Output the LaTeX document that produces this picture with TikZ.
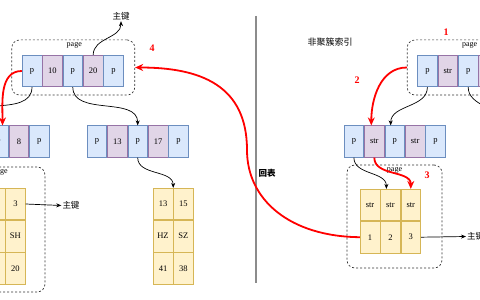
\documentclass[tikz,border=0pt]{standalone}
\usepackage{fontspec}
\setmainfont{Liberation Serif}
\newfontfamily\cjk{Noto Sans CJK SC}
\usetikzlibrary{arrows.meta,positioning,calc,fit}
\definecolor{ptrfill}{HTML}{DAE8FC}
\definecolor{ptrline}{HTML}{6C8EBF}
\definecolor{keyfill}{HTML}{E1D5E7}
\definecolor{keyline}{HTML}{9673A6}
\definecolor{rowfill}{HTML}{FFF2CC}
\definecolor{rowline}{HTML}{D6B656}
\definecolor{sepgray}{HTML}{8C8C8C}

\begin{document}
\begin{tikzpicture}[x=1pt, y=1pt,
    >={Stealth[length=5pt,width=4pt]},
    cell/.style={draw, minimum width=19.7pt, minimum height=31.5pt, inner sep=0pt, line width=0.7pt, font=\fontsize{8.5}{10}\selectfont},
    pcell/.style={cell, draw=ptrline, fill=ptrfill},
    kcell/.style={cell, draw=keyline, fill=keyfill},
    rcell/.style={cell, draw=rowline, fill=rowfill},
    pagebox/.style={draw=black!80, dash pattern=on 2pt off 2pt, rounded corners=8pt, line width=0.7pt, inner sep=0pt},
    lab/.style={font=\fontsize{8}{9}\selectfont, inner sep=1pt},
    zh/.style={font=\cjk\fontsize{8.5}{10}\selectfont, inner sep=1pt},
    num/.style={font=\bfseries\fontsize{10}{12}\selectfont, text=red, inner sep=1pt},
    link/.style={->, line width=0.7pt},
    hot/.style={-{Stealth[length=8pt,width=7pt]}, draw=red, line width=1.8pt}]
  \useasboundingbox (0,0) rectangle (480,300);
  \clip (0,0) rectangle (480,300);

  % clustered index
  \node[pcell] (r1) at (32,229) {p};
  \node[kcell, right=0pt of r1] (r2) {10};
  \node[pcell, right=0pt of r2] (r3) {p};
  \node[kcell, right=0pt of r3] (r4) {20};
  \node[pcell, right=0pt of r4] (r5) {p};
  \coordinate (bl1) at ($(r1.north west)+(-10,15)$);
  \coordinate (bl2) at ($(r5.south east)+(11,-8)$);
  \node[pagebox, fit=(bl1)(bl2)] (pgL) {};
  \node[lab, anchor=north] at ($(pgL.north)+(1,-2)$) {page};
  \node[zh] (pkT) at (121,284) {主键};
  \draw[link] (r4.north) to[out=90, in=-90] (pkT.south);

  \node[pcell] (l3) at (-1.5,158.5) {p};
  \node[kcell, right=0pt of l3] (l4) {8};
  \node[pcell, right=0pt of l4] (l5) {p};
  \coordinate (offL) at (-41,174.2);

  \node[pcell] (m1) at (96.9,158.5) {p};
  \node[kcell, right=0pt of m1] (m2) {13};
  \node[pcell, right=0pt of m2] (m3) {p};
  \node[kcell, right=0pt of m3] (m4) {17};
  \node[pcell, right=0pt of m4] (m5) {p};

  \draw[link] (r1.south) to[out=-90, in=90] (offL);
  \draw[hot] (r1.west) to[out=180, in=90] ([xshift=4pt]l3.north);
  \draw[link] (r3.south) to[out=-90, in=90] (m3.north);

  % leaves
  \node[rcell] (la1) at (-5,96) {};
  \node[rcell, right=0pt of la1] (lb1) {3};
  \node[rcell, below=0pt of la1] (la2) {};
  \node[rcell, right=0pt of la2] (lb2) {SH};
  \node[rcell, below=0pt of la2] (la3) {};
  \node[rcell, right=0pt of la3] (lb3) {20};
  \coordinate (bl3) at (-45,133);
  \coordinate (bl4) at (45,8);
  \node[pagebox, fit=(bl3)(bl4)] (pgLL) {};
  \node[lab, anchor=north] at ($(pgLL.north)+(0,-2)$) {page};
  \node[zh] (pkL) at (71,94.5) {主键};
  \draw[link] (lb1.east) -- (pkL.west);

  \node[rcell] (ma1) at (163,96) {13};
  \node[rcell, right=0pt of ma1] (mb1) {15};
  \node[rcell, below=0pt of ma1] (ma2) {HZ};
  \node[rcell, right=0pt of ma2] (mb2) {SZ};
  \node[rcell, below=0pt of ma2] (ma3) {41};
  \node[rcell, right=0pt of ma3] (mb3) {38};
  \draw[link] (m3.south) to[out=-90, in=90] (ma1.north east);

  % separator
  \draw[sepgray, line width=1.2pt] (256,284) -- (256,17);
  \node[zh, font=\cjk\bfseries\fontsize{8.5}{10}\selectfont] at (267,127) {回表};

  % secondary index
  \node[zh, font=\cjk\fontsize{9}{10}\selectfont] at (330,258) {非聚簇索引};
  \node[pcell] (s1) at (427.4,229) {p};
  \node[kcell, right=0pt of s1] (s2) {str};
  \node[pcell, right=0pt of s2] (s3) {p};
  \node[kcell, right=0pt of s3] (s4) {str};
  \node[pcell, right=0pt of s4] (s5) {p};
  \coordinate (br1) at ($(s1.north west)+(-10,15)$);
  \coordinate (br2) at ($(s5.south east)+(11,-8)$);
  \node[pagebox, fit=(br1)(br2)] (pgR) {};
  \node[lab, anchor=north] at ($(pgR.north)+(1,-2)$) {page};
  \coordinate (offR) at (500,174.2);

  \node[pcell] (t1) at (353.9,158.5) {p};
  \node[kcell, right=0pt of t1] (t2) {str};
  \node[pcell, right=0pt of t2] (t3) {p};
  \node[kcell, right=0pt of t3] (t4) {str};
  \node[pcell, right=0pt of t4] (t5) {p};

  \draw[link] (s1.south) to[out=-90, in=90] ([xshift=-4pt]t3.north);
  \draw[link] (s3.south) to[out=-90, in=90] (offR);
  \draw[hot] (pgR.west) to[out=180, in=90] ([xshift=-3pt]t2.north);

  \node[rcell] (rk1) at (370,95) {str};
  \node[rcell, right=0pt of rk1] (rk2) {str};
  \node[rcell, right=0pt of rk2] (rk3) {str};
  \node[rcell, below=0pt of rk1] (id1) {1};
  \node[rcell, right=0pt of id1] (id2) {2};
  \node[rcell, right=0pt of id2] (id3) {3};
  \coordinate (br3) at (347,135);
  \coordinate (br4) at (442,32);
  \node[pagebox, fit=(br3)(br4)] (pgRL) {};
  \node[lab, anchor=north] at ($(pgRL.north)+(0,-2)$) {page};
  \node[zh, anchor=west] (pkR) at (466,63.5) {主键};
  \draw[link] (id3.east) -- (pkR.west);

  \draw[link] (t1.south) to[out=-90, in=90] ([xshift=-4pt]rk2.north);
  \draw[hot] (t2.south) to[out=-90, in=90] (rk3.north);

  % back to the table
  \coordinate (turn) at (247,150);
  \draw[hot] (id1.west) .. controls (290,63.5) and (247,100) .. (turn)
    .. controls (247,215) and (200,232.5) .. (pgL.east);

  \node[num] at (152,252) {4};
  \node[num] at (446,268) {1};
  \node[num] at (357,220) {2};
  \node[num] at (427,125) {3};
\end{tikzpicture}
\end{document}
